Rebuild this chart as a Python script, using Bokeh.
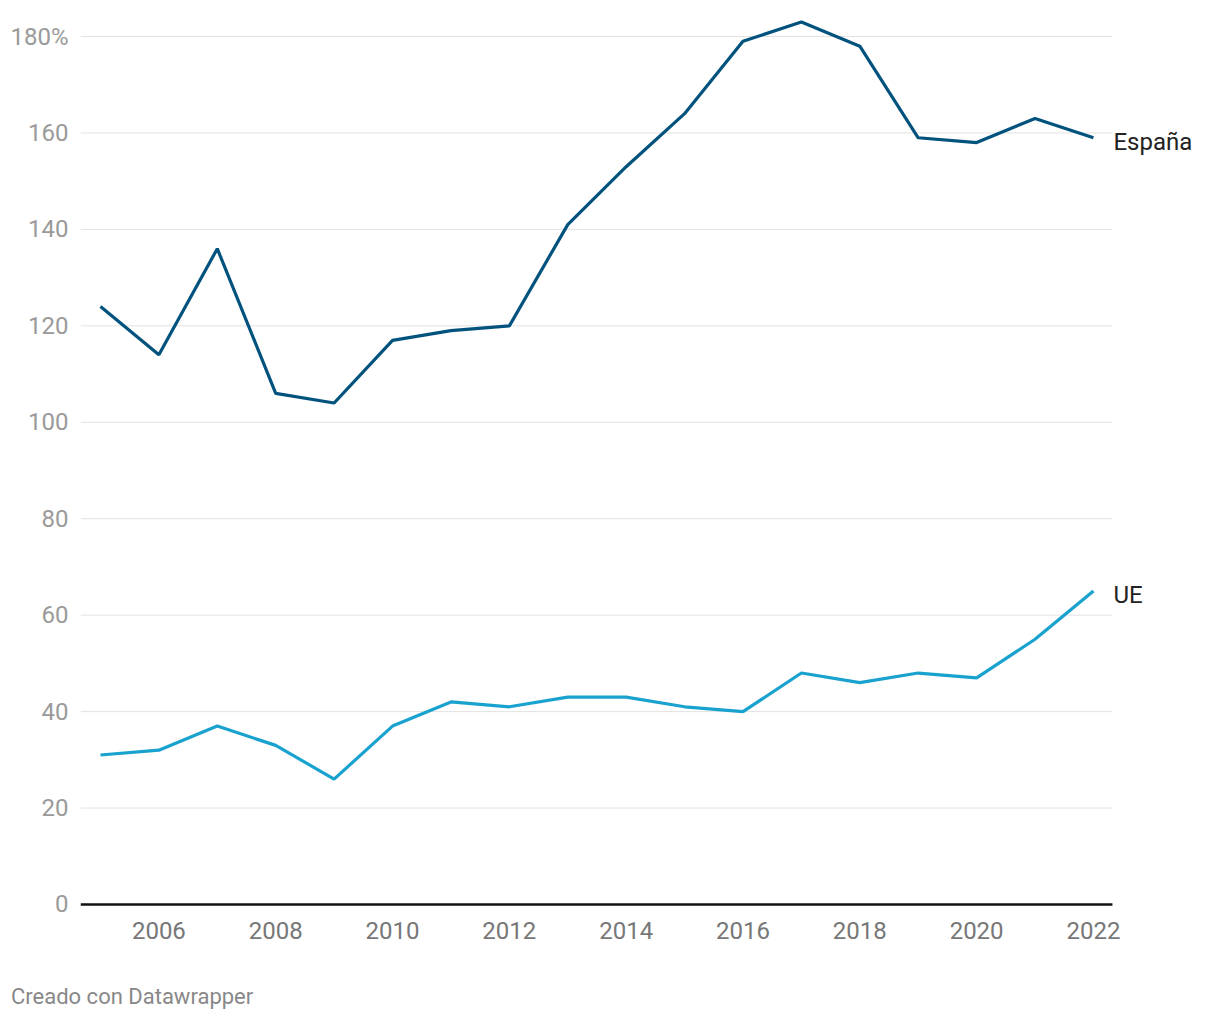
from bokeh.plotting import figure
from bokeh.models import Range1d, FixedTicker, Div
from bokeh.layouts import column
from bokeh.core.properties import value
from bokeh.embed import file_html
from bokeh.resources import INLINE

years = list(range(2005, 2023))
espana = [124, 114, 136, 106, 104, 117, 119, 120, 141, 153, 164, 179, 183, 178, 159, 158, 163, 159]
ue = [31, 32, 37, 33, 26, 37, 42, 41, 43, 43, 41, 40, 48, 46, 48, 47, 55, 65]
series_names = ["España", "UE"]
x_ticks = list(range(2006, 2023, 2))
y_ticks = list(range(0, 181, 20))
credit_text = "Creado con Datawrapper"

FONT = "Roboto"
X0, X_GRID_END, X1 = 2004.658, 2022.325, 2024.004

p = figure(width=1212, height=958, output_backend="svg", toolbar_location=None,
           x_range=Range1d(X0, X1), y_range=Range1d(-0.415, 184.15),
           min_border_left=80, min_border_right=2, min_border_top=16, min_border_bottom=52)
p.outline_line_color = None
p.background_fill_color = "white"
p.border_fill_color = "white"

# grid lines (drawn as segments so they stop where the chart area ends)
p.segment(x0=[X0] * (len(y_ticks) - 1), y0=y_ticks[1:], x1=[X_GRID_END] * (len(y_ticks) - 1),
          y1=y_ticks[1:], line_color="#e2e2e2", line_width=1)

p.line(years, espana, line_color="#02527e", line_width=3.2)
p.line(years, ue, line_color="#1aa2cf", line_width=3.2)

# baseline
p.segment(x0=[X0], y0=[0], x1=[X_GRID_END], y1=[0], line_color="#111111", line_width=2.4)

p.text(x=[years[-1], years[-1]], y=[espana[-1], ue[-1]], text=series_names,
       x_offset=20, y_offset=4, text_baseline="middle", text_align="left",
       text_font=value(FONT), text_font_size="24px", text_color="#222222")

p.xaxis.ticker = FixedTicker(ticks=x_ticks)
p.xaxis.axis_line_color = None
p.xaxis.major_tick_line_color = None
p.xaxis.minor_tick_line_color = None
p.xaxis.major_label_text_font = FONT
p.xaxis.major_label_text_font_size = "24px"
p.xaxis.major_label_text_color = "#777777"
p.xaxis.major_label_standoff = 9

p.yaxis.ticker = FixedTicker(ticks=y_ticks)
p.yaxis.axis_line_color = None
p.yaxis.major_tick_line_color = None
p.yaxis.minor_tick_line_color = None
p.yaxis.major_label_text_font = FONT
p.yaxis.major_label_text_font_size = "24px"
p.yaxis.major_label_text_color = "#9a9a9a"
p.yaxis.major_label_standoff = 6
p.yaxis.major_label_overrides = {180: "180%"}

p.xgrid.grid_line_color = None
p.ygrid.grid_line_color = None

credit = Div(text=credit_text, margin=(26, 0, 0, 11),
             styles={"font-family": FONT, "font-size": "22px", "color": "#888888",
                     "line-height": "26px"})

layout = column(p, credit, spacing=0)
open("out.html", "w").write(file_html(layout, INLINE))
